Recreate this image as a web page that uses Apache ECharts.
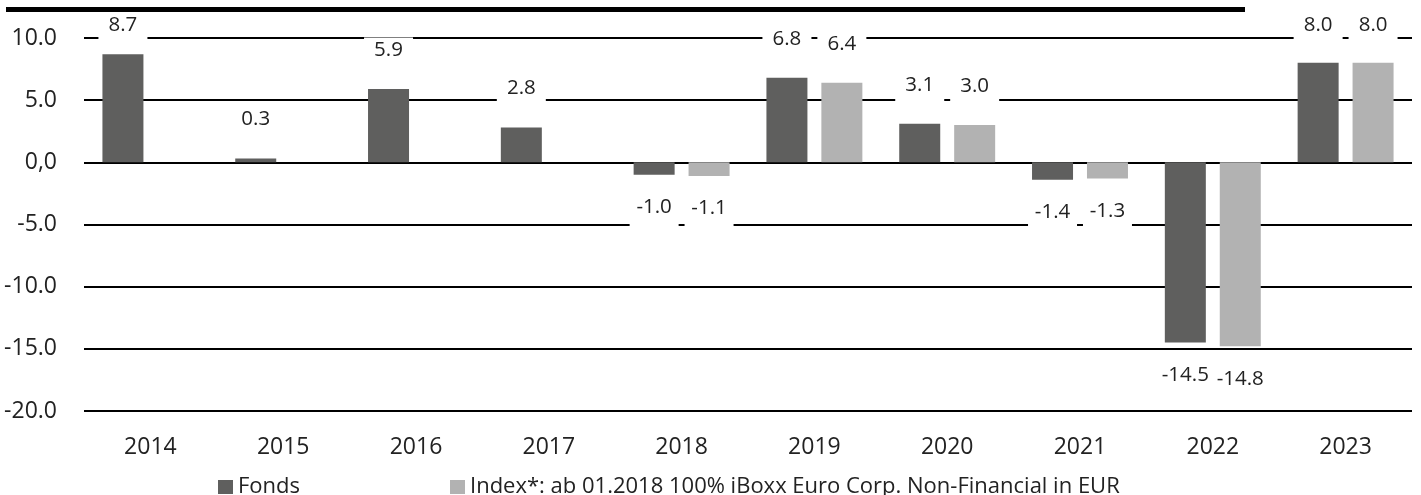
<!DOCTYPE html>
<html>
<head>
<meta charset="utf-8">
<script src="https://cdn.jsdelivr.net/npm/echarts@6/dist/echarts.min.js"></script>
<style>
html,body{margin:0;padding:0;background:#fff;}
#chart{width:1421px;height:495px;}
</style>
</head>
<body>
<div id="chart"></div>
<script>
const categories = ['2014','2015','2016','2017','2018','2019','2020','2021','2022','2023'];
const fondsValues = [8.7, 0.3, 5.9, 2.8, -1.0, 6.8, 3.1, -1.4, -14.5, 8.0];
const indexValues = [null, null, null, null, -1.1, 6.4, 3.0, -1.3, -14.8, 8.0];
const seriesNames = ['Fonds', 'Index*: ab 01.2018 100% iBoxx Euro Corp. Non-Financial in EUR'];
const yTicks = [-20, -15, -10, -5, 0, 5, 10];
const yTickLabels = ['-20.0', '-15.0', '-10.0', '-5.0', '0,0', '5.0', '10.0'];

const FONT = '"Open Sans", "Noto Sans", sans-serif';
const TXT = '#222';

function items(vals) {
  return vals.map(v => v == null ? null : {
    value: v,
    label: { position: v < 0 ? 'bottom' : 'top', distance: v < 0 ? 20 : 17.5 }
  });
}

const labelCfg = {
  show: true,
  formatter: p => Number(p.value).toFixed(1),
  backgroundColor: '#fff',
  width: 41,
  align: 'center',
  padding: [4, 4, 13, 4],
  fontSize: 20.5,
  lineHeight: 17,
  color: TXT,
  fontFamily: FONT
};

const chart = echarts.init(document.getElementById('chart'), null, {renderer: 'canvas'});
chart.setOption({
  animation: false,
  backgroundColor: '#fff',
  graphic: [{
    type: 'rect',
    shape: { x: 6, y: 7, width: 1239, height: 5 },
    style: { fill: '#000' },
    z: 100
  }],
  grid: { left: 84, right: 9, top: 38, bottom: 84 },
  legend: {
    left: 213, top: 471,
    icon: 'rect', itemWidth: 15, itemHeight: 14, itemGap: 150,
    textStyle: { fontSize: 22, color: TXT, fontFamily: FONT },
    data: seriesNames
  },
  xAxis: {
    type: 'category',
    data: categories,
    axisLine: { show: false },
    axisTick: { show: false },
    axisLabel: { fontSize: 23, color: TXT, fontFamily: FONT, margin: 25 }
  },
  yAxis: {
    type: 'value',
    min: -20, max: 10, interval: 5,
    axisLine: { show: false },
    axisTick: { show: false },
    splitLine: { lineStyle: { color: '#000', width: 2 } },
    axisLabel: {
      fontSize: 23, color: TXT, fontFamily: FONT, margin: 27,
      formatter: v => { const i = yTicks.indexOf(v); return i >= 0 ? yTickLabels[i] : ''; }
    }
  },
  labelLayout: function (p) {
    if (p.labelRect.y < 13) return { dy: 13 - p.labelRect.y };
    return {};
  },
  series: [
    { name: seriesNames[0], type: 'bar', data: items(fondsValues), barWidth: 41, barGap: '34%',
      itemStyle: { color: '#5f5f5e' }, label: labelCfg, z: 3 },
    { name: seriesNames[1], type: 'bar', data: items(indexValues), barWidth: 41, barGap: '34%',
      itemStyle: { color: '#b2b2b2' }, label: labelCfg, z: 3 }
  ]
});
</script>
</body>
</html>
